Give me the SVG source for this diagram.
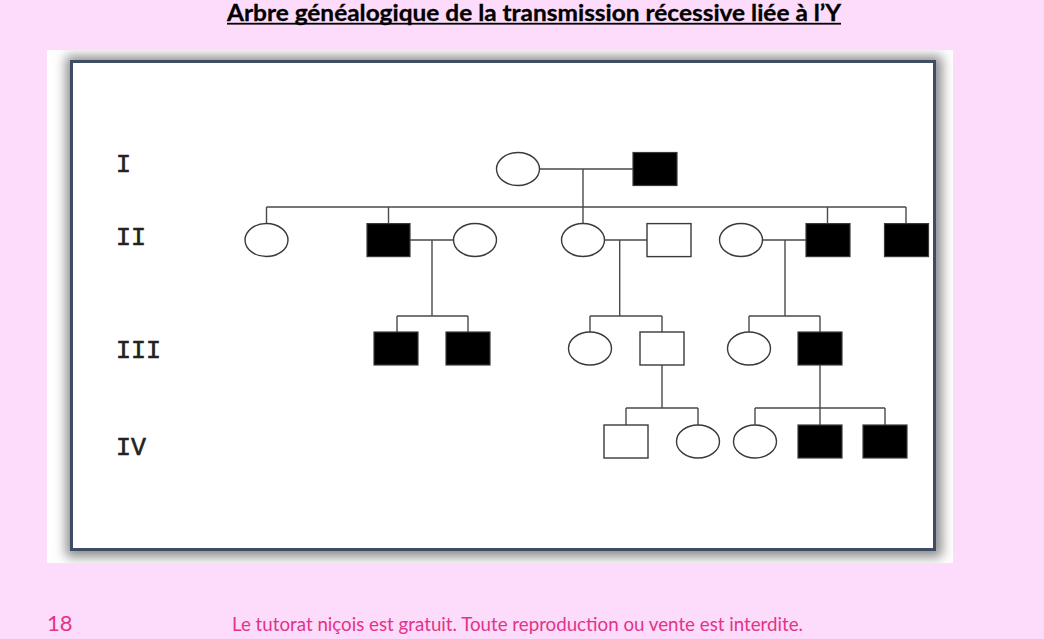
<svg xmlns="http://www.w3.org/2000/svg" width="1044" height="639" viewBox="0 0 1044 639">
<defs>
<filter id="sh" x="-5%" y="-5%" width="110%" height="110%"><feGaussianBlur stdDeviation="6"/></filter>
<clipPath id="wc"><rect x="47" y="50" width="906" height="513"/></clipPath>
</defs>
<style>
.ln{stroke:#4a4a4a;stroke-width:1.4;fill:none}
.f{fill:#fff;stroke:#3a3a3a;stroke-width:1.4}
.m{fill:#fff;stroke:#3a3a3a;stroke-width:1.4}
.a{fill:#000;stroke:#3a3a3a;stroke-width:1.2}
.lab{font-family:"Liberation Mono","Courier New",monospace;font-size:25px;fill:#222;stroke:#222;stroke-width:0.6}
</style>
<rect width="1044" height="639" fill="#FCDCFA"/>
<rect x="47" y="50" width="906" height="513" fill="#fff"/>
<g clip-path="url(#wc)">
<rect x="66" y="56" width="876" height="501" fill="#8a8a8a" filter="url(#sh)"/>
</g>
<rect x="71.5" y="61.5" width="863" height="488" fill="#fff" stroke="#3E4D63" stroke-width="3"/>
<text x="227" y="20.5" font-family="Lato,'Open Sans',sans-serif" font-weight="bold" font-size="22" textLength="614" lengthAdjust="spacingAndGlyphs" fill="#000" stroke="#000" stroke-width="0.3">Arbre généalogique de la transmission récessive liée à l’Y</text>
<rect x="227" y="22.8" width="614" height="1.8" fill="#000"/>
<g id="labels">
<text class="lab" x="116" y="172">I</text>
<text class="lab" x="116" y="245">II</text>
<text class="lab" x="116" y="358">III</text>
<text class="lab" x="116" y="455">IV</text>
</g>
<g id="connectors">
<path class="ln" d="M540 169H633M583 169V223.6M266.5 207H906M266.5 207V223.6M388.5 207V223.6M827.5 207V223.6M906 207V223.6"/>
<path class="ln" d="M410 240H454M432 240V316M397 316H468M397 316V332M468 316V332"/>
<path class="ln" d="M604.5 240H647M619.7 240V316M590 316H662M590 316V332M662 316V332"/>
<path class="ln" d="M763 240H806M785 240V316M749 316H820M749 316V332M820 316V332"/>
<path class="ln" d="M662 365V408M626 408H698M626 408V425M698 408V425"/>
<path class="ln" d="M820 365V425M755 408H885M755 408V425M885 408V425"/>
</g>
<g id="I-1"><ellipse class="f" cx="518" cy="169" rx="21.5" ry="16.5"/></g>
<g id="I-2"><rect class="a" x="633" y="152.5" width="44" height="33"/></g>
<g id="II-1"><ellipse class="f" cx="266.5" cy="240" rx="21.5" ry="16.5"/></g>
<g id="II-2"><rect class="a" x="367" y="223.6" width="43" height="33"/></g>
<g id="II-3"><ellipse class="f" cx="475" cy="240" rx="21.5" ry="16.5"/></g>
<g id="II-4"><ellipse class="f" cx="583" cy="240" rx="21.5" ry="16.5"/></g>
<g id="II-5"><rect class="m" x="647" y="223.6" width="44" height="33"/></g>
<g id="II-6"><ellipse class="f" cx="741" cy="240" rx="21.5" ry="16.5"/></g>
<g id="II-7"><rect class="a" x="806" y="223.6" width="44" height="33"/></g>
<g id="II-8"><rect class="a" x="884.5" y="223.6" width="44" height="33"/></g>
<g id="III-1"><rect class="a" x="374" y="332" width="44" height="33"/></g>
<g id="III-2"><rect class="a" x="446" y="332" width="44" height="33"/></g>
<g id="III-3"><ellipse class="f" cx="590" cy="348.5" rx="21.5" ry="16.5"/></g>
<g id="III-4"><rect class="m" x="640" y="332" width="44" height="33"/></g>
<g id="III-5"><ellipse class="f" cx="749" cy="348.5" rx="21.5" ry="16.5"/></g>
<g id="III-6"><rect class="a" x="798" y="332" width="44" height="33"/></g>
<g id="IV-1"><rect class="m" x="604" y="425" width="44" height="33"/></g>
<g id="IV-2"><ellipse class="f" cx="698" cy="441.5" rx="21.5" ry="16.5"/></g>
<g id="IV-3"><ellipse class="f" cx="755" cy="441.5" rx="21.5" ry="16.5"/></g>
<g id="IV-4"><rect class="a" x="798" y="425" width="44" height="33"/></g>
<g id="IV-5"><rect class="a" x="863" y="425" width="44" height="33"/></g>
<text x="47" y="631" font-family="Lato,'Open Sans',sans-serif" font-size="22" fill="#E2338A">18</text>
<text x="232" y="631" font-family="Lato,'Open Sans',sans-serif" font-size="18.5" textLength="571" lengthAdjust="spacingAndGlyphs" fill="#E2338A">Le tutorat niçois est gratuit. Toute reproduction ou vente est interdite.</text>
</svg>
